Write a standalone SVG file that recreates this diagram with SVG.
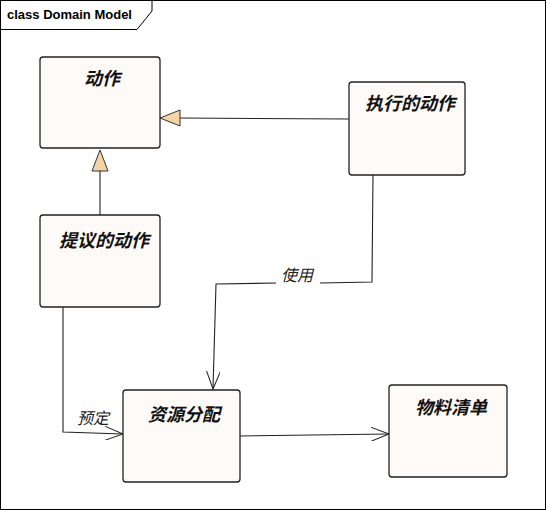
<svg xmlns="http://www.w3.org/2000/svg" width="546" height="510" viewBox="0 0 546 510">
<defs>
<style>
.frame{fill:#ffffff;stroke:#000;stroke-width:1}
.node{fill:#fdfaf7;stroke:#222;stroke-width:1.3}
.name{font-family:"Noto Sans CJK SC","Noto Sans",sans-serif;font-size:18px;font-weight:bold;font-style:italic;fill:#111;text-anchor:middle}
.lbl{font-family:"Noto Sans CJK SC","Noto Sans",sans-serif;font-size:16px;font-style:italic;fill:#222;text-anchor:middle}
.title{font-family:"Liberation Sans",Arial,sans-serif;font-size:13px;font-weight:bold;fill:#000}
.edge{fill:none;stroke:#222;stroke-width:1.1}
.tri{fill:#f5d3a6;stroke:#333;stroke-width:1}
</style>
<marker id="open" markerWidth="20" markerHeight="14" refX="18" refY="7" orient="auto" markerUnits="userSpaceOnUse">
<path d="M0,0 L18,7 L0,14" fill="none" stroke="#222" stroke-width="1"/>
</marker>
</defs>
<rect x="0.5" y="0.5" width="545" height="509" class="frame"/>
<path d="M0.5,29.5 H137 L152,11 V0.5" fill="none" stroke="#000" stroke-width="1"/>
<text x="7" y="19" class="title">class Domain Model</text>

<g id="connectors">
<path class="edge" d="M349,119 L180,118"/>
<path class="tri" d="M160,118 L180,110 L180,126 Z"/>
<path class="edge" d="M100,215 L100,171"/>
<path class="tri" d="M100,150 L92,171 L108,171 Z"/>
<path class="edge" d="M373,175 L372,282 L320,283"/>
<path class="edge" d="M276,283 L216,284 L213,389" marker-end="url(#open)"/>
<text x="297" y="281" class="lbl">使用</text>
<path class="edge" d="M63,307 L63,432 L123,434" marker-end="url(#open)"/>
<text x="93" y="424" class="lbl">预定</text>
<path class="edge" d="M240,436 L389,434" marker-end="url(#open)"/>
</g>

<g id="node-action">
<rect x="40" y="57" width="120" height="91" rx="3" class="node"/>
<text x="102" y="85" class="name">动作</text>
</g>
<g id="node-executed">
<rect x="349" y="82" width="116" height="93" rx="3" class="node"/>
<text x="410" y="110" class="name">执行的动作</text>
</g>
<g id="node-proposed">
<rect x="40" y="215" width="120" height="92" rx="3" class="node"/>
<text x="104" y="247" class="name">提议的动作</text>
</g>
<g id="node-resource">
<rect x="123" y="390" width="117" height="92" rx="3" class="node"/>
<text x="184" y="421" class="name">资源分配</text>
</g>
<g id="node-bom">
<rect x="389" y="385" width="118" height="92" rx="3" class="node"/>
<text x="451" y="414" class="name">物料清单</text>
</g>
</svg>
